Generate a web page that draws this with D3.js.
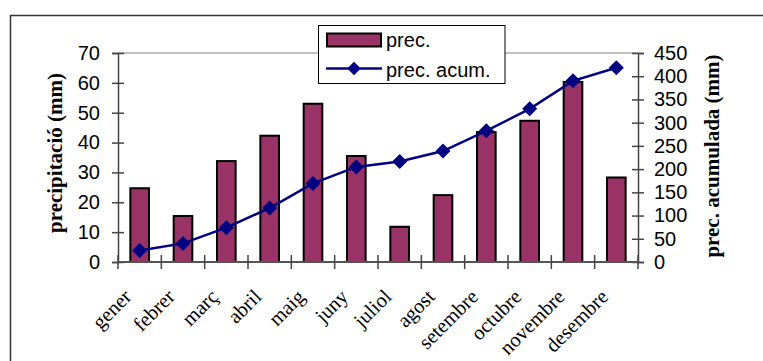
<!DOCTYPE html>
<html>
<head>
<meta charset="utf-8">
<script src="https://cdn.jsdelivr.net/npm/d3@7"></script>
<style>
  html, body { margin: 0; padding: 0; background: #fff; }
  svg { display: block; }
</style>
</head>
<body>
<svg id="chart" width="763" height="361"></svg>
<script>
// Monthly precipitation (mm) and its running total
const months = ["gener", "febrer", "març", "abril", "maig", "juny",
                "juliol", "agost", "setembre", "octubre", "novembre", "desembre"];
const prec = [24.7, 15.4, 33.8, 42.3, 53.0, 35.5, 11.8, 22.4, 43.5, 47.3, 60.3, 28.3];
const precAcum = [24.7, 40.1, 73.9, 116.2, 169.2, 204.7, 216.5, 238.9, 282.4, 329.7, 390.0, 418.3];
const leftTicks = [0, 10, 20, 30, 40, 50, 60, 70];
const rightTicks = [0, 50, 100, 150, 200, 250, 300, 350, 400, 450];
const seriesNames = ["prec.", "prec. acum."];

const svg = d3.select("#chart");
const plot = { left: 118, right: 638, top: 53, bottom: 262 };

const x = d3.scaleBand()
  .domain(months)
  .range([plot.left, plot.right])
  .paddingInner(0.57)
  .paddingOuter(0.285);
const step = x.step();
const yL = d3.scaleLinear().domain([0, 70]).range([plot.bottom, plot.top]);
const yR = d3.scaleLinear().domain([0, 450]).range([plot.bottom, plot.top]);

const sansFont = "'Liberation Sans', Arial, sans-serif";
const serifFont = "'Liberation Serif', 'Times New Roman', serif";

// Outer chart frame (top and left edges visible)
svg.append("path")
  .attr("d", "M10.5,361 L10.5,15.5 L763,15.5")
  .attr("fill", "none").attr("stroke", "#333").attr("stroke-width", 1.5);

// Top gridline of the plot area
svg.append("line")
  .attr("x1", plot.left).attr("x2", plot.right)
  .attr("y1", yL(70)).attr("y2", yL(70))
  .attr("stroke", "#c0c0c0").attr("stroke-width", 2);

// Bars
svg.append("g").selectAll("rect")
  .data(prec)
  .join("rect")
  .attr("x", (d, i) => x(months[i]))
  .attr("y", d => yL(d))
  .attr("width", x.bandwidth())
  .attr("height", d => yL(0) - yL(d))
  .attr("fill", "#993366")
  .attr("stroke", "#000")
  .attr("stroke-width", 2);

// Axes
const axisColor = "#444";
const leftAxis = svg.append("g")
  .attr("transform", `translate(${plot.left},0)`)
  .call(d3.axisLeft(yL).tickValues(leftTicks).tickSize(6).tickPadding(12));
const rightAxis = svg.append("g")
  .attr("transform", `translate(${plot.right},0)`)
  .call(d3.axisRight(yR).tickValues(rightTicks).tickSize(6).tickPadding(10));
[leftAxis, rightAxis].forEach(g => {
  g.select(".domain").attr("stroke", axisColor).attr("stroke-width", 1.5);
  g.selectAll(".tick line").attr("stroke", axisColor).attr("stroke-width", 1.5);
  g.selectAll(".tick text")
    .attr("font-family", sansFont).attr("font-size", 20).attr("fill", "#000");
});
// Ticks cross the axis lines
leftAxis.selectAll(".tick line").attr("x1", 6).attr("x2", -6);
rightAxis.selectAll(".tick line").attr("x1", -6).attr("x2", 6);

// Category axis with ticks on band boundaries
const bottomAxis = svg.append("g");
bottomAxis.append("line")
  .attr("x1", plot.left).attr("x2", plot.right)
  .attr("y1", plot.bottom).attr("y2", plot.bottom)
  .attr("stroke", "#555").attr("stroke-width", 2);
bottomAxis.selectAll("line.tk")
  .data(d3.range(months.length + 1))
  .join("line")
  .attr("class", "tk")
  .attr("x1", i => plot.left + i * step).attr("x2", i => plot.left + i * step)
  .attr("y1", plot.bottom - 7).attr("y2", plot.bottom + 7)
  .attr("stroke", axisColor).attr("stroke-width", 1.5);
bottomAxis.selectAll("text")
  .data(months)
  .join("text")
  .attr("transform", d => `translate(${x(d) + x.bandwidth() / 2 - 7},${plot.bottom + 36}) rotate(-45)`)
  .attr("text-anchor", "end")
  .attr("font-family", serifFont)
  .attr("font-size", 20.5)
  .attr("fill", "#000")
  .text(d => d);

// Accumulated line with diamond markers
const cx = i => x(months[i]) + x.bandwidth() / 2;
const line = d3.line().x((d, i) => cx(i)).y(d => yR(d));
svg.append("path")
  .datum(precAcum)
  .attr("d", line)
  .attr("fill", "none")
  .attr("stroke", "#000080")
  .attr("stroke-width", 2.5);
const diamond = (r) => `M0,${-r}L${r},0L0,${r}L${-r},0Z`;
svg.append("g").selectAll("path")
  .data(precAcum)
  .join("path")
  .attr("transform", (d, i) => `translate(${cx(i)},${yR(d)})`)
  .attr("d", diamond(7.5))
  .attr("fill", "#000080");

// Axis titles
svg.append("text")
  .attr("transform", `translate(62,153) rotate(-90)`)
  .attr("text-anchor", "middle")
  .attr("font-family", serifFont).attr("font-weight", "bold").attr("font-size", 21)
  .text("precipitació (mm)");
svg.append("text")
  .attr("transform", `translate(719,156) rotate(-90)`)
  .attr("text-anchor", "middle")
  .attr("font-family", serifFont).attr("font-weight", "bold").attr("font-size", 21)
  .text("prec. acumulada (mm)");

// Legend
const legend = svg.append("g");
legend.append("rect")
  .attr("x", 318.5).attr("y", 25.5).attr("width", 186.5).attr("height", 58)
  .attr("fill", "#fff").attr("stroke", "#000").attr("stroke-width", 1);
legend.append("rect")
  .attr("x", 327).attr("y", 33.5).attr("width", 54).attr("height", 13)
  .attr("fill", "#993366").attr("stroke", "#000").attr("stroke-width", 2);
legend.append("line")
  .attr("x1", 326).attr("x2", 382).attr("y1", 68.5).attr("y2", 68.5)
  .attr("stroke", "#000080").attr("stroke-width", 2.5);
legend.append("path")
  .attr("transform", "translate(354,68.5)")
  .attr("d", diamond(6.8))
  .attr("fill", "#000080");
legend.selectAll("text")
  .data(seriesNames)
  .join("text")
  .attr("x", 386)
  .attr("y", (d, i) => i === 0 ? 47 : 76.5)
  .attr("font-family", sansFont).attr("font-size", 20).attr("fill", "#000")
  .text(d => d);
</script>
</body>
</html>
